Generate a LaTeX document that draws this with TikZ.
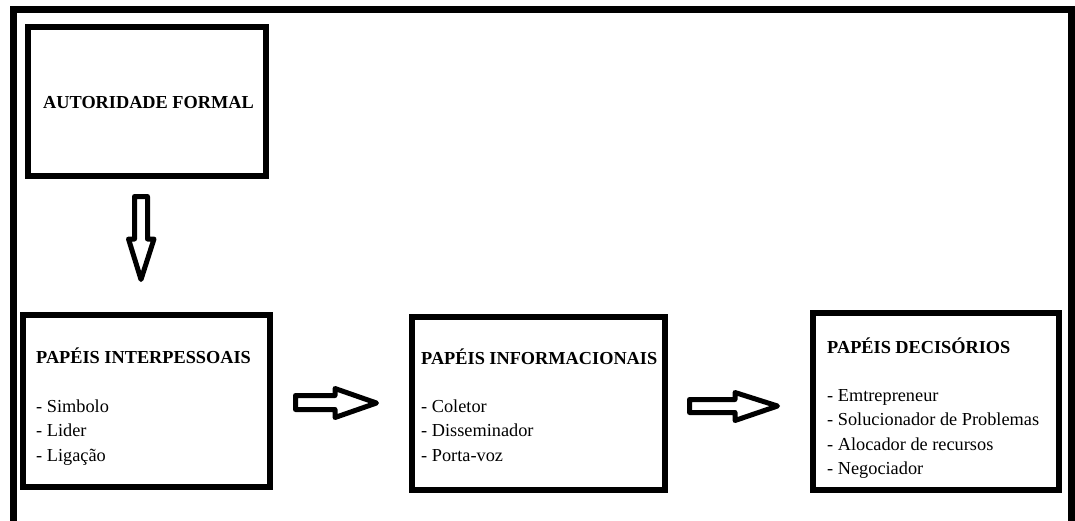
\documentclass[tikz,border=0pt]{standalone}
\usepackage{fontspec}
\setmainfont{Liberation Serif}
\begin{document}
\begin{tikzpicture}[x=1pt,y=-1pt,
  box/.style={draw=black,line width=6pt,rectangle,inner sep=0pt,fill=white},
  frameline/.style={line width=7pt,line cap=rect},
  blockarrow/.style={draw=black,line width=5pt,line join=round,fill=white},
  title/.style={anchor=base west,inner sep=0pt,font=\fontsize{18.3}{24}\selectfont\bfseries},
  item/.style={anchor=base west,inner sep=0pt,font=\fontsize{18.3}{24}\selectfont}]
\useasboundingbox (0,0) rectangle (1075,520);
% outer frame
\draw[frameline] (13,523) -- (13,9) -- (1071,9) -- (1071,523);
% boxes
\node[box,minimum width=238pt,minimum height=149.5pt] (auto) at (146.5,101.25) {};
\node[box,minimum width=247pt,minimum height=172pt] (inter) at (146.5,401) {};
\node[box,minimum width=253pt,minimum height=173pt] (info) at (538.5,403.5) {};
\node[box,minimum width=246pt,minimum height=177pt] (deci) at (936,401.5) {};
% texts
\node[title] (t1) at (43,108) {AUTORIDADE FORMAL};
\node[title] (t2) at (36,363) {PAPÉIS INTERPESSOAIS};
\node[item] (i21) at (36,412) {- Simbolo};
\node[item] (i22) at (36,436.5) {- Lider};
\node[item] (i23) at (36,461) {- Ligação};
\node[title] (t3) at (421,364) {PAPÉIS INFORMACIONAIS};
\node[item] (i31) at (421,412) {- Coletor};
\node[item] (i32) at (421,436.5) {- Disseminador};
\node[item] (i33) at (421,461) {- Porta-voz};
\node[title] (t4) at (827,353) {PAPÉIS DECISÓRIOS};
\node[item] (i41) at (827,401.5) {- Emtrepreneur};
\node[item] (i42) at (827,425.8) {- Solucionador de Problemas};
\node[item] (i43) at (827,450) {- Alocador de recursos};
\node[item] (i44) at (827,474.3) {- Negociador};
% block arrows
\draw[blockarrow] (134.5,196.5) -- (147.5,196.5) -- (147.5,239) -- (154,239) -- (141,279.5) -- (128.5,239) -- (134.5,239) -- cycle;
\draw[blockarrow] (295.5,395.5) -- (335,395.5) -- (335,388.5) -- (376.5,403) -- (335,417.5) -- (335,409.5) -- (295.5,409.5) -- cycle;
\draw[blockarrow] (689.5,399.5) -- (735,399.5) -- (735,392.5) -- (777.5,406) -- (735,420.5) -- (735,412.5) -- (689.5,412.5) -- cycle;
\end{tikzpicture}
\end{document}
